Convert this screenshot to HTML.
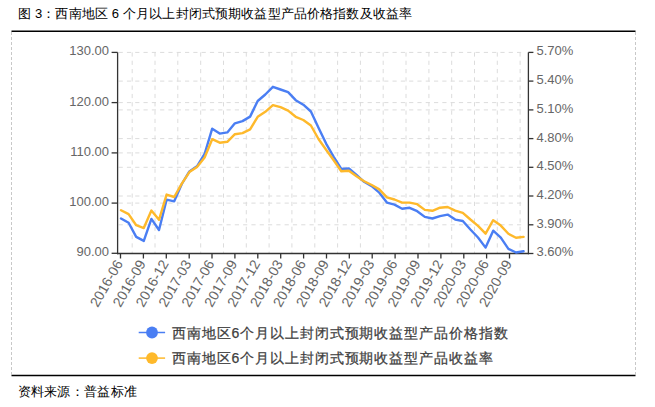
<!DOCTYPE html>
<html><head><meta charset="utf-8"><style>
html,body{margin:0;padding:0;background:#fff;width:655px;height:407px;overflow:hidden}
svg{display:block;font-family:"Liberation Sans",sans-serif}
.gd{stroke:#dcdcdc;stroke-width:1;stroke-dasharray:4.2 4.1}
.ax{stroke:#333;stroke-width:1.3}
.yl{font-size:13px;fill:#666}
.xl{font-size:14px;fill:#666}
.ttl{font-size:13px;fill:#000}
.lg{font-size:14px;fill:#404040;font-weight:normal;stroke:#404040;stroke-width:0.25px;letter-spacing:0.9px}
</style></head><body>
<svg width="655" height="407" viewBox="0 0 655 407">
<text x="18" y="13.5" class="ttl" style="letter-spacing:0.15px" dominant-baseline="central">图 3：西南地区 6 个月以上封闭式预期收益型产品价格指数及收益率</text>
<line x1="11.5" y1="31.3" x2="635.5" y2="31.3" stroke="#000" stroke-width="1.6"/>
<line x1="11.5" y1="375.5" x2="635.5" y2="375.5" stroke="#000" stroke-width="1.6"/>
<line x1="11.5" y1="32" x2="11.5" y2="375" stroke="#c8c8c8" stroke-width="1" stroke-dasharray="3 2"/>
<line x1="635.5" y1="32" x2="635.5" y2="375" stroke="#c8c8c8" stroke-width="1" stroke-dasharray="3 2"/>
<line x1="118.6" y1="52.4" x2="524" y2="52.4" class="gd"/>
<line x1="118.6" y1="81.1" x2="524" y2="81.1" class="gd"/>
<line x1="118.6" y1="102.6" x2="524" y2="102.6" class="gd"/>
<line x1="118.6" y1="109.9" x2="524" y2="109.9" class="gd"/>
<line x1="118.6" y1="138.6" x2="524" y2="138.6" class="gd"/>
<line x1="118.6" y1="152.9" x2="524" y2="152.9" class="gd"/>
<line x1="118.6" y1="167.3" x2="524" y2="167.3" class="gd"/>
<line x1="118.6" y1="196.0" x2="524" y2="196.0" class="gd"/>
<line x1="118.6" y1="203.1" x2="524" y2="203.1" class="gd"/>
<line x1="118.6" y1="224.8" x2="524" y2="224.8" class="gd"/>
<line x1="132.2" y1="52.4" x2="132.2" y2="253.5" class="gd"/>
<line x1="155.0" y1="52.4" x2="155.0" y2="253.5" class="gd"/>
<line x1="177.8" y1="52.4" x2="177.8" y2="253.5" class="gd"/>
<line x1="200.7" y1="52.4" x2="200.7" y2="253.5" class="gd"/>
<line x1="223.5" y1="52.4" x2="223.5" y2="253.5" class="gd"/>
<line x1="246.3" y1="52.4" x2="246.3" y2="253.5" class="gd"/>
<line x1="269.1" y1="52.4" x2="269.1" y2="253.5" class="gd"/>
<line x1="291.9" y1="52.4" x2="291.9" y2="253.5" class="gd"/>
<line x1="314.8" y1="52.4" x2="314.8" y2="253.5" class="gd"/>
<line x1="337.6" y1="52.4" x2="337.6" y2="253.5" class="gd"/>
<line x1="360.4" y1="52.4" x2="360.4" y2="253.5" class="gd"/>
<line x1="383.2" y1="52.4" x2="383.2" y2="253.5" class="gd"/>
<line x1="406.0" y1="52.4" x2="406.0" y2="253.5" class="gd"/>
<line x1="428.9" y1="52.4" x2="428.9" y2="253.5" class="gd"/>
<line x1="451.7" y1="52.4" x2="451.7" y2="253.5" class="gd"/>
<line x1="474.5" y1="52.4" x2="474.5" y2="253.5" class="gd"/>
<line x1="497.3" y1="52.4" x2="497.3" y2="253.5" class="gd"/>
<line x1="520.1" y1="52.4" x2="520.1" y2="253.5" class="gd"/>
<line x1="117.6" y1="52.4" x2="117.6" y2="254.2" class="ax"/>
<line x1="528.4" y1="52.4" x2="528.4" y2="254.2" class="ax"/>
<line x1="116.89999999999999" y1="253.5" x2="529.1" y2="253.5" class="ax"/>
<line x1="111.6" y1="52.4" x2="117.6" y2="52.4" class="ax"/>
<text x="109" y="50.8" class="yl" text-anchor="end" dominant-baseline="central">130.00</text>
<line x1="111.6" y1="102.6" x2="117.6" y2="102.6" class="ax"/>
<text x="109" y="101.0" class="yl" text-anchor="end" dominant-baseline="central">120.00</text>
<line x1="111.6" y1="152.9" x2="117.6" y2="152.9" class="ax"/>
<text x="109" y="151.3" class="yl" text-anchor="end" dominant-baseline="central">110.00</text>
<line x1="111.6" y1="203.1" x2="117.6" y2="203.1" class="ax"/>
<text x="109" y="201.5" class="yl" text-anchor="end" dominant-baseline="central">100.00</text>
<line x1="111.6" y1="253.3" x2="117.6" y2="253.3" class="ax"/>
<text x="109" y="251.7" class="yl" text-anchor="end" dominant-baseline="central">90.00</text>
<line x1="528.4" y1="52.4" x2="533.4" y2="52.4" class="ax"/>
<text x="536.5" y="50.8" class="yl" dominant-baseline="central">5.70%</text>
<line x1="528.4" y1="81.1" x2="533.4" y2="81.1" class="ax"/>
<text x="536.5" y="79.5" class="yl" dominant-baseline="central">5.40%</text>
<line x1="528.4" y1="109.9" x2="533.4" y2="109.9" class="ax"/>
<text x="536.5" y="108.3" class="yl" dominant-baseline="central">5.10%</text>
<line x1="528.4" y1="138.6" x2="533.4" y2="138.6" class="ax"/>
<text x="536.5" y="137.0" class="yl" dominant-baseline="central">4.80%</text>
<line x1="528.4" y1="167.3" x2="533.4" y2="167.3" class="ax"/>
<text x="536.5" y="165.7" class="yl" dominant-baseline="central">4.50%</text>
<line x1="528.4" y1="196.0" x2="533.4" y2="196.0" class="ax"/>
<text x="536.5" y="194.4" class="yl" dominant-baseline="central">4.20%</text>
<line x1="528.4" y1="224.8" x2="533.4" y2="224.8" class="ax"/>
<text x="536.5" y="223.2" class="yl" dominant-baseline="central">3.90%</text>
<line x1="528.4" y1="253.5" x2="533.4" y2="253.5" class="ax"/>
<text x="536.5" y="251.9" class="yl" dominant-baseline="central">3.60%</text>
<line x1="120.5" y1="253.5" x2="120.5" y2="258.5" class="ax"/>
<text x="119.0" y="261.0" class="xl" text-anchor="end" dominant-baseline="central" transform="rotate(-60 119.0 261.0)">2016-06</text>
<line x1="143.4" y1="253.5" x2="143.4" y2="258.5" class="ax"/>
<text x="141.9" y="261.0" class="xl" text-anchor="end" dominant-baseline="central" transform="rotate(-60 141.9 261.0)">2016-09</text>
<line x1="166.3" y1="253.5" x2="166.3" y2="258.5" class="ax"/>
<text x="164.8" y="261.0" class="xl" text-anchor="end" dominant-baseline="central" transform="rotate(-60 164.8 261.0)">2016-12</text>
<line x1="189.2" y1="253.5" x2="189.2" y2="258.5" class="ax"/>
<text x="187.7" y="261.0" class="xl" text-anchor="end" dominant-baseline="central" transform="rotate(-60 187.7 261.0)">2017-03</text>
<line x1="212.0" y1="253.5" x2="212.0" y2="258.5" class="ax"/>
<text x="210.5" y="261.0" class="xl" text-anchor="end" dominant-baseline="central" transform="rotate(-60 210.5 261.0)">2017-06</text>
<line x1="234.9" y1="253.5" x2="234.9" y2="258.5" class="ax"/>
<text x="233.4" y="261.0" class="xl" text-anchor="end" dominant-baseline="central" transform="rotate(-60 233.4 261.0)">2017-09</text>
<line x1="257.8" y1="253.5" x2="257.8" y2="258.5" class="ax"/>
<text x="256.3" y="261.0" class="xl" text-anchor="end" dominant-baseline="central" transform="rotate(-60 256.3 261.0)">2017-12</text>
<line x1="280.7" y1="253.5" x2="280.7" y2="258.5" class="ax"/>
<text x="279.2" y="261.0" class="xl" text-anchor="end" dominant-baseline="central" transform="rotate(-60 279.2 261.0)">2018-03</text>
<line x1="303.6" y1="253.5" x2="303.6" y2="258.5" class="ax"/>
<text x="302.1" y="261.0" class="xl" text-anchor="end" dominant-baseline="central" transform="rotate(-60 302.1 261.0)">2018-06</text>
<line x1="326.5" y1="253.5" x2="326.5" y2="258.5" class="ax"/>
<text x="325.0" y="261.0" class="xl" text-anchor="end" dominant-baseline="central" transform="rotate(-60 325.0 261.0)">2018-09</text>
<line x1="349.3" y1="253.5" x2="349.3" y2="258.5" class="ax"/>
<text x="347.8" y="261.0" class="xl" text-anchor="end" dominant-baseline="central" transform="rotate(-60 347.8 261.0)">2018-12</text>
<line x1="372.2" y1="253.5" x2="372.2" y2="258.5" class="ax"/>
<text x="370.7" y="261.0" class="xl" text-anchor="end" dominant-baseline="central" transform="rotate(-60 370.7 261.0)">2019-03</text>
<line x1="395.1" y1="253.5" x2="395.1" y2="258.5" class="ax"/>
<text x="393.6" y="261.0" class="xl" text-anchor="end" dominant-baseline="central" transform="rotate(-60 393.6 261.0)">2019-06</text>
<line x1="418.0" y1="253.5" x2="418.0" y2="258.5" class="ax"/>
<text x="416.5" y="261.0" class="xl" text-anchor="end" dominant-baseline="central" transform="rotate(-60 416.5 261.0)">2019-09</text>
<line x1="440.9" y1="253.5" x2="440.9" y2="258.5" class="ax"/>
<text x="439.4" y="261.0" class="xl" text-anchor="end" dominant-baseline="central" transform="rotate(-60 439.4 261.0)">2019-12</text>
<line x1="463.8" y1="253.5" x2="463.8" y2="258.5" class="ax"/>
<text x="462.3" y="261.0" class="xl" text-anchor="end" dominant-baseline="central" transform="rotate(-60 462.3 261.0)">2020-03</text>
<line x1="486.6" y1="253.5" x2="486.6" y2="258.5" class="ax"/>
<text x="485.1" y="261.0" class="xl" text-anchor="end" dominant-baseline="central" transform="rotate(-60 485.1 261.0)">2020-06</text>
<line x1="509.5" y1="253.5" x2="509.5" y2="258.5" class="ax"/>
<text x="508.0" y="261.0" class="xl" text-anchor="end" dominant-baseline="central" transform="rotate(-60 508.0 261.0)">2020-09</text>
<polyline points="121.0,218.5 128.6,222.8 136.2,236.9 143.8,240.9 151.4,218.9 159.0,230.0 166.6,199.7 174.2,201.3 181.8,184.0 189.4,171.4 197.0,166.3 204.6,154.0 212.2,128.7 219.7,133.6 227.3,132.4 234.9,123.3 242.5,121.1 250.1,116.6 257.7,101.0 265.3,94.5 272.9,86.8 280.5,89.5 288.1,92.2 295.7,100.2 303.3,104.7 310.9,111.5 318.5,127.7 326.1,143.6 333.7,156.8 341.3,169.0 348.9,168.5 356.5,175.0 364.1,181.8 371.7,186.2 379.3,192.7 386.9,202.6 394.5,204.6 402.1,208.7 409.6,207.8 417.2,211.2 424.8,216.9 432.4,218.5 440.0,216.1 447.6,214.6 455.2,219.6 462.8,221.0 470.4,229.5 478.0,237.5 485.6,247.6 493.2,230.7 500.8,237.6 508.4,248.8 516.0,252.5 523.6,251.2" fill="none" stroke="#4a7ef3" stroke-width="2.4" stroke-linejoin="round" stroke-linecap="round"/>
<polyline points="121.0,210.2 128.6,214.1 136.2,225.2 143.8,228.1 151.4,210.5 159.0,219.8 166.6,194.6 174.2,197.0 181.8,183.6 189.4,172.1 197.0,167.0 204.6,157.5 212.2,139.2 219.7,142.7 227.3,141.8 234.9,134.2 242.5,133.1 250.1,129.4 257.7,116.8 265.3,111.8 272.9,105.1 280.5,107.2 288.1,110.6 295.7,116.8 303.3,120.0 310.9,125.5 318.5,139.0 326.1,149.7 333.7,160.2 341.3,171.3 348.9,170.7 356.5,176.2 364.1,181.2 371.7,185.0 379.3,189.4 386.9,197.3 394.5,199.5 402.1,202.6 409.6,202.6 417.2,204.2 424.8,209.9 432.4,210.8 440.0,207.7 447.6,207.0 455.2,210.7 462.8,212.8 470.4,219.5 478.0,225.8 485.6,233.7 493.2,220.2 500.8,225.6 508.4,233.8 516.0,237.7 523.6,236.9" fill="none" stroke="#feb92b" stroke-width="2.4" stroke-linejoin="round" stroke-linecap="round"/>
<line x1="138.7" y1="332.5" x2="165.1" y2="332.5" stroke="#4a7ef3" stroke-width="1.5"/>
<circle cx="152" cy="332.5" r="5.9" fill="#4a7ef3"/>
<text x="172" y="332.5" class="lg" dominant-baseline="central">西南地区6个月以上封闭式预期收益型产品价格指数</text>
<line x1="138.7" y1="358.1" x2="165.1" y2="358.1" stroke="#feb92b" stroke-width="1.5"/>
<circle cx="152" cy="358.1" r="5.9" fill="#feb92b"/>
<text x="172" y="358.1" class="lg" dominant-baseline="central">西南地区6个月以上封闭式预期收益型产品收益率</text>
<text x="17.5" y="391.5" class="ttl" style="letter-spacing:0.3px" dominant-baseline="central">资料来源：普益标准</text>
</svg>
</body></html>
